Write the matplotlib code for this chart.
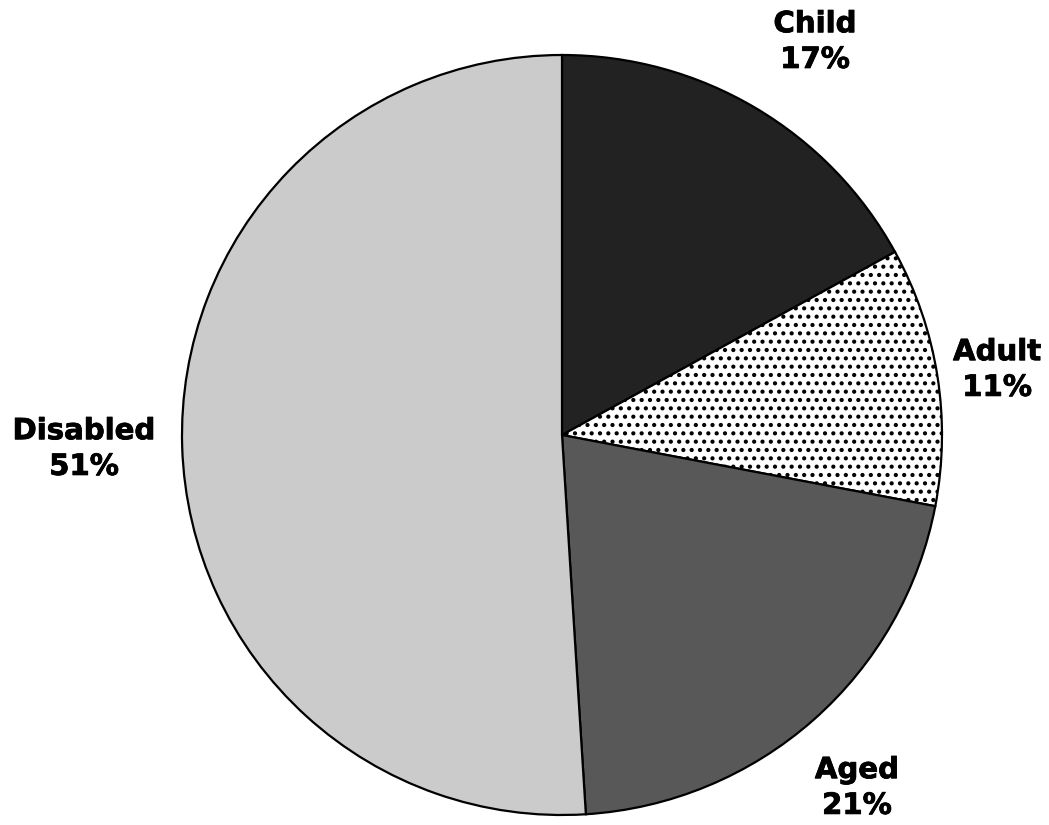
import matplotlib
matplotlib.use("Agg")
import matplotlib.pyplot as plt
import matplotlib.patheffects as pe

labels = ["Child", "Adult", "Aged", "Disabled"]
shares = [17, 11, 21, 51]
colors = ["#222222", "#ffffff", "#585858", "#cbcbcb"]
hatches = [None, "..", None, None]
# label centres in pie units (radius = 1)
label_pos = [(0.666, 1.034), (1.145, 0.171), (0.776, -0.929), (-1.258, -0.037)]

plt.rcParams["font.family"] = ["DejaVu Sans"]
plt.rcParams["hatch.linewidth"] = 1.8

fig = plt.figure(figsize=(10.49, 8.25), dpi=100)
ax = fig.add_axes([182 / 1049, 10 / 825, 760 / 1049, 760 / 825])

wedges, _ = ax.pie(shares, colors=colors, startangle=90, counterclock=False,
                   radius=1.0,
                   wedgeprops=dict(edgecolor="black", linewidth=1.6))
for w, h in zip(wedges, hatches):
    if h:
        w.set_hatch(h)

for lab, val, (x, y) in zip(labels, shares, label_pos):
    ax.text(x, y, f"{lab}\n{val}%", ha="center", va="center",
            fontsize=21, fontweight="bold", linespacing=1.35, clip_on=False,
            path_effects=[pe.withStroke(linewidth=0.6, foreground="black")])

ax.set_xlim(-1, 1)
ax.set_ylim(-1, 1)
ax.set_aspect("equal")
ax.axis("off")

fig.savefig("out.png", dpi=100)
